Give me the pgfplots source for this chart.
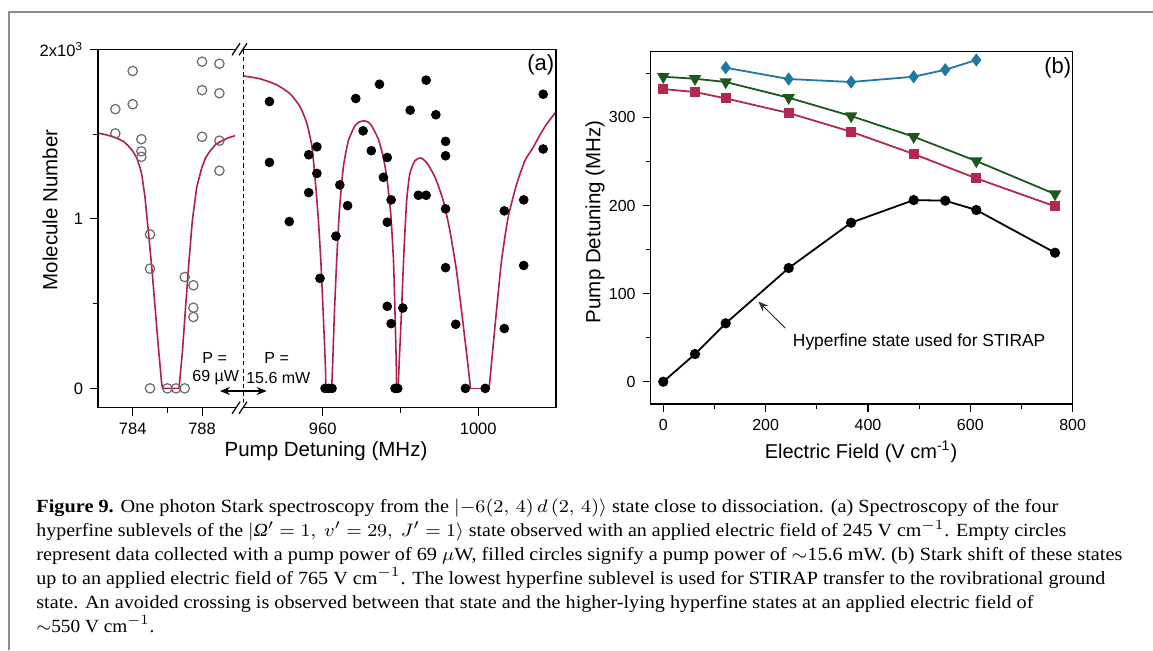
\documentclass[border=0pt]{standalone}
\usepackage{fontspec}
\setmainfont{Liberation Serif}
\setsansfont{Liberation Sans}
\newfontfamily\capfont{Liberation Serif}
\usepackage{graphicx}
\usepackage{pgfplots}
\pgfplotsset{compat=1.18}
\usetikzlibrary{arrows.meta}
\definecolor{fitred}{RGB}{176,32,72}
\definecolor{sqred}{RGB}{178,40,80}
\definecolor{dgreen}{RGB}{28,88,28}
\definecolor{dblue}{RGB}{30,120,160}
\definecolor{circgray}{RGB}{105,105,105}
\definecolor{framegray}{RGB}{140,140,140}

\newsavebox\capA \newsavebox\capB \newsavebox\capC
\newsavebox\capD \newsavebox\capE \newsavebox\capF
\newcommand\capsz{\capfont\fontsize{9.3}{11}\selectfont}
\newcommand\mkscale[3]{% macro, target px, box
  \pgfmathsetmacro#1{(#2*0.5)/(\the\wd#3)}}

\pgfplotsset{
  myaxis/.style={
    scale only axis, anchor=south west,
    tick align=outside,
    major tick length=4pt, minor tick length=2.5pt,
    every tick/.style={black, line width=0.55pt},
    axis line style={line width=0.6pt},
    tick label style={font=\sffamily\fontsize{8.25}{9}\selectfont},
    /pgf/number format/assume math mode=true,
    /pgf/number format/1000 sep={},
    xtick pos=left, ytick pos=left,
  }
}

\begin{document}
\sbox\capA{\capsz\textbf{Figure 9.} One photon Stark spectroscopy from the $|{-6}(2,\,4)\,d\,(2,\,4)\rangle$ state close to dissociation. (a) Spectroscopy of the four}%
\sbox\capB{\capsz hyperfine sublevels of the $|$\textit{Ω}$' = 1,\ v' = 29,\ J' = 1\rangle$ state observed with an applied electric field of 245 V cm$^{-1}$. Empty circles}%
\sbox\capC{\capsz represent data collected with a pump power of 69 $\mu$W, filled circles signify a pump power of $\sim$15.6 mW. (b) Stark shift of these states}%
\sbox\capD{\capsz up to an applied electric field of 765 V cm$^{-1}$. The lowest hyperfine sublevel is used for STIRAP transfer to the rovibrational ground}%
\sbox\capE{\capsz state. An avoided crossing is observed between that state and the higher-lying hyperfine states at an applied electric field of}%
\sbox\capF{\capsz $\sim$550 V cm$^{-1}$.}%
\mkscale\sA{1022}\capA%
\mkscale\sB{1030}\capB%
\mkscale\sC{1086}\capC%
\mkscale\sD{1069}\capD%
\mkscale\sE{997}\capE%
\mkscale\sF{118}\capF%
\begin{tikzpicture}
\path[use as bounding box] (0,0) rectangle (576.5pt,-325pt);

% ---------- panel (a), left part ----------
\begin{axis}[myaxis, at={(49pt,-203.85pt)}, width=72.5pt, height=179.2pt,
  xmin=782, xmax=790.36, ymin=-0.114, ymax=2,
  xtick={784,788}, minor xtick={786},
  ytick={0,1,2}, yticklabels={0,1,2x10\textsuperscript{3}},
  minor ytick={0.5,1.5},
  axis line style={draw=none}]
\addplot[fitred, line width=0.8pt] coordinates {
(782,1.506)(782.5,1.495)(783,1.48)(783.5,1.455)(783.75,1.43)(784,1.40)(784.23,1.36)
(784.4,1.31)(784.52,1.265)(784.71,1.127)(784.9,0.93)(785.1,0.715)(785.29,0.48)
(785.48,0.245)(785.67,0.03)(785.73,0)(786.67,0)(786.86,0.206)(787.05,0.48)
(787.25,0.755)(787.44,0.99)(787.69,1.186)(787.98,1.30)(788.2,1.36)(788.46,1.40)
(788.8,1.44)(789.13,1.46)(789.5,1.478)(789.9,1.49)};
\addplot[only marks, mark=o, mark size=2.35pt, circgray, line width=0.6pt] coordinates {
(783,1.647)(783,1.504)(784,1.872)(784,1.676)(784.5,1.47)(784.5,1.398)(784.5,1.366)
(785,0.908)(785,0.706)(785,0)(786,0)(786.5,0)(787,0)(787,0.657)(787.5,0.608)
(787.5,0.476)(787.5,0.421)(788,1.927)(788,1.759)(788,1.484)(789,1.915)(789,1.741)
(789,1.461)(789,1.284)};
\end{axis}

% ---------- panel (a), right part ----------
\begin{axis}[myaxis, at={(121.5pt,-203.85pt)}, width=156.5pt, height=179.2pt,
  xmin=939.5, xmax=1020, ymin=-0.114, ymax=2,
  xtick={960,1000}, minor xtick={980}, ytick=\empty,
  axis line style={draw=none}]
\addplot[fitred, line width=0.8pt, smooth, tension=0.35] coordinates {
(939.5,1.843)(943.9,1.826)(948.2,1.79)(951.6,1.738)(954.2,1.66)(955.9,1.565)
(957.2,1.43)(958.0,1.25)(958.9,0.99)(959.6,0.715)(960.2,0.402)(960.7,0.127)
(960.8,0)};
\addplot[fitred, line width=0.8pt] coordinates {(960.8,0)(962.3,0)};
\addplot[fitred, line width=0.8pt, smooth, tension=0.35] coordinates {
(962.3,0)(962.6,0.167)(963.0,0.44)(963.6,0.755)(964.3,1.049)(965.3,1.304)
(966.6,1.461)(968.3,1.549)(969.5,1.572)(970.6,1.578)(971.6,1.572)(972.6,1.549)
(974.3,1.47)(975.6,1.362)(976.6,1.225)(977.5,1.029)(978.2,0.755)(978.6,0.44)
(978.9,0.167)(979.0,0)};
\addplot[fitred, line width=0.8pt] coordinates {(979.0,0)(979.4,0)};
\addplot[fitred, line width=0.8pt, smooth, tension=0.35] coordinates {
(979.4,0)(979.7,0.167)(980.2,0.42)(980.9,0.81)(981.6,1.108)
(982.4,1.265)(983.7,1.343)(985.2,1.359)(986.7,1.333)(988.9,1.245)(991.0,1.108)
(992.7,0.931)(994.4,0.696)(996.1,0.382)(997.4,0.127)(998.0,0)};
\addplot[fitred, line width=0.8pt] coordinates {(998.0,0)(1002.8,0)};
\addplot[fitred, line width=0.8pt, smooth, tension=0.35] coordinates {
(1002.8,0)(1003.4,0.147)(1004.7,0.46)(1006.0,0.755)(1007.7,1.01)(1009.9,1.206)(1012.0,1.343)
(1014.1,1.421)(1016,1.50)(1017.6,1.559)(1020,1.631)};
\addplot[only marks, mark=*, mark size=2.2pt, black] coordinates {
(946.3,1.692)(946.3,1.333)(951.4,0.984)(956.4,1.378)(956.4,1.155)(958.5,1.425)
(958.5,1.268)(959.3,0.649)(960.6,0)(961.5,0)(962.4,0)(963.4,0.898)(964.4,1.2)
(966.4,1.078)(968.5,1.71)(970.4,1.519)(972.5,1.402)(974.6,1.794)(975.6,1.245)
(976.6,1.362)(976.6,0.98)(976.6,0.484)(977.6,1.112)(977.6,0.382)(978.6,0)(979.3,0)
(980.6,0.474)(982.5,1.641)(984.6,1.139)(986.6,1.818)(986.6,1.139)(989.1,1.614)
(991.6,1.457)(991.6,1.372)(991.6,1.059)(991.6,0.712)(994.2,0.378)(996.7,0)
(1001.8,0)(1006.7,1.047)(1006.7,0.353)(1011.7,1.112)(1011.7,0.725)(1016.7,1.735)
(1016.7,1.412)};
\end{axis}

% ---------- panel (b) ----------
\begin{axis}[myaxis, at={(325.35pt,-202pt)}, width=211pt, height=176.15pt,
  xmin=-24.6, xmax=800, ymin=-25.3, ymax=374.6,
  xtick={0,200,400,600,800}, minor xtick={100,300,500,700},
  ytick={0,100,200,300}, minor ytick={50,150,250,350},
  tick label style={font=\sffamily\fontsize{8}{9}\selectfont}]
\addplot[black, line width=0.9pt, mark=*, mark size=2.1pt] coordinates {
(0,0)(62,31.4)(122,66.3)(245,129)(367,180.5)(489.3,206.2)(551,205.5)(611.7,194.9)(765.5,146.4)};
\addplot[sqred, line width=0.9pt, mark=square*, mark size=2pt] coordinates {
(0,332.2)(62,328.8)(122,321.6)(245,305)(367,283.8)(489.3,258.5)(611.7,230.8)(765.5,199.1)};
\addplot[dgreen, line width=0.9pt, mark=triangle*, mark size=2.7pt,
  mark options={rotate=180}] coordinates {
(0,346.2)(62,343.9)(122,340.2)(245,322.4)(367,301.6)(489.3,278.1)(611.7,250.5)(765.5,213)};
\addplot[dblue, line width=0.9pt, mark=diamond*, mark size=2.6pt] coordinates {
(122,356.4)(245,343.6)(367,340.2)(489.3,346.2)(551,354.1)(611.7,365.2)};
\draw[-{Stealth[length=5pt,width=4pt]}, line width=0.5pt, black!80] (axis cs:238,61) -- (axis cs:186,91);
\node[font=\sffamily\fontsize{8.7}{10}\selectfont] at (axis cs:500,45.4) {Hyperfine state used for STIRAP};
\end{axis}

\begin{scope}[x=0.5pt,y=-0.5pt]
% outer frame
\draw[framegray, line width=0.8pt] (9,650) -- (9,12) -- (1153,12);
% panel (a) frame lines
\draw[line width=0.6pt] (243,49.3) -- (98,49.3) -- (98,407.7) -- (243,407.7);
\draw[line width=0.6pt] (243,49.3) -- (556,49.3) -- (556,407.7) -- (243,407.7);
% dashed separator
\draw[line width=0.5pt, dash pattern=on 2.2pt off 1.6pt] (243,49.3) -- (243,407.7);
% break marks
\foreach \yy in {49.3,407.7}{
  \fill[white] (233,\yy+5) -- (239,\yy-5) -- (246,\yy-5) -- (240,\yy+5) -- cycle;
  \draw[line width=0.6pt] (232,\yy+6) -- (240,\yy-6);
  \draw[line width=0.6pt] (239,\yy+6) -- (247,\yy-6);
}
% P annotations
\node[font=\sffamily\fontsize{8}{9}\selectfont] at (214.7,358) {P =};
\node[font=\sffamily\fontsize{8}{9}\selectfont] at (215.7,378) {69 µW};
\node[font=\sffamily\fontsize{8}{9}\selectfont] at (276.7,358) {P =};
\node[font=\sffamily\fontsize{8}{9}\selectfont] at (278.3,378) {15.6 mW};
\draw[{Stealth[length=5pt,width=4pt]}-{Stealth[length=5pt,width=4pt]}, line width=0.6pt] (220,391) -- (266.7,391);
% panel labels
\node[font=\sffamily\fontsize{11}{12}\selectfont] at (540.7,65) {(a)};
\node[font=\sffamily\fontsize{11}{12}\selectfont] at (1057.7,68) {(b)};
% axis labels
\node[font=\sffamily\fontsize{10.25}{12}\selectfont, rotate=90] at (50,210) {Molecule Number};
\node[font=\sffamily\fontsize{10.25}{12}\selectfont] at (326,451) {Pump Detuning (MHz)};
\node[font=\sffamily\fontsize{10.25}{12}\selectfont, rotate=90] at (595,221.7) {Pump Detuning (MHz)};
\node[font=\sffamily\fontsize{10}{12}\selectfont] at (861,451.7) {Electric Field (V cm\textsuperscript{-1})};
% caption
\node[anchor=base west,inner sep=0pt] at (36,512.7) {\scalebox{\sA}[1]{\usebox\capA}};
\node[anchor=base west,inner sep=0pt] at (36,536.7) {\scalebox{\sB}[1]{\usebox\capB}};
\node[anchor=base west,inner sep=0pt] at (36,560.7) {\scalebox{\sC}[1]{\usebox\capC}};
\node[anchor=base west,inner sep=0pt] at (36,584.3) {\scalebox{\sD}[1]{\usebox\capD}};
\node[anchor=base west,inner sep=0pt] at (36,608.3) {\scalebox{\sE}[1]{\usebox\capE}};
\node[anchor=base west,inner sep=0pt] at (36,632) {\scalebox{\sF}[1]{\usebox\capF}};
\end{scope}
\end{tikzpicture}
\end{document}
